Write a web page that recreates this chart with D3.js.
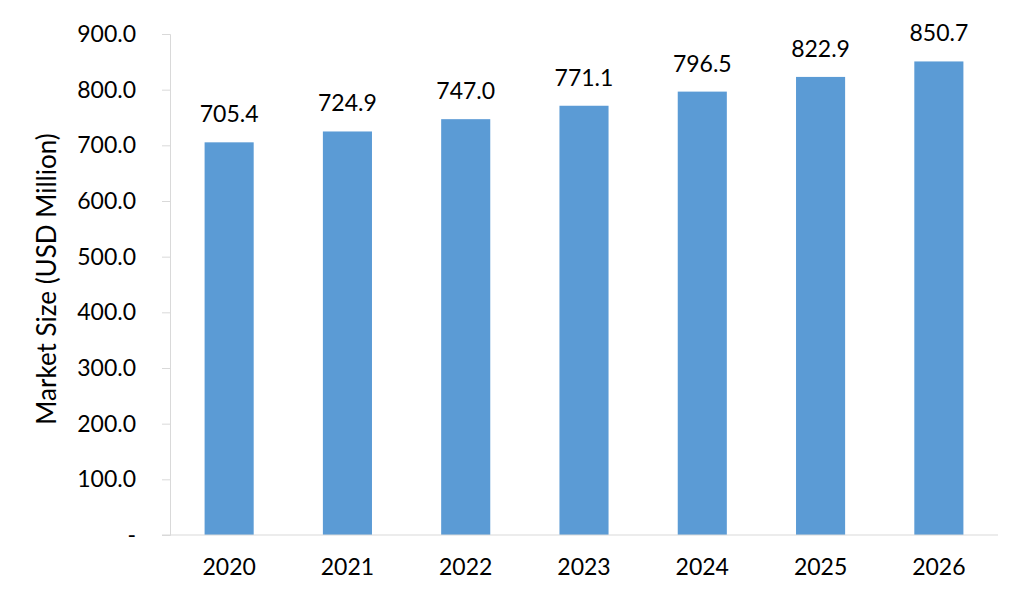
<!DOCTYPE html>
<html lang="en">
<head>
    <meta charset="UTF-8">
    <title>Market Size</title>
    <script src="https://cdn.jsdelivr.net/npm/d3@7"></script>
    <style>
        body { margin: 0; background: #fff; }
        text { font-family: Lato, 'Open Sans', sans-serif; fill: #000; }
    </style>
</head>
<body>
<script type="application/javascript">
    const years = ['2020', '2021', '2022', '2023', '2024', '2025', '2026'];
    const values = [705.4, 724.9, 747.0, 771.1, 796.5, 822.9, 850.7];
    const yTicks = [0, 100, 200, 300, 400, 500, 600, 700, 800, 900];

    const w = 1010, h = 598;
    const margin = {top: 34, right: 12, bottom: 63, left: 170};

    let svg = d3.select('body')
        .append('svg')
        .attr('width', w)
        .attr('height', h);

    // x: band scale, bars about 41% of the step
    let xScale = d3.scaleBand()
        .domain(years)
        .range([margin.left, w - margin.right])
        .paddingInner(0.585)
        .paddingOuter(0.2925);

    let yScale = d3.scaleLinear()
        .domain([0, 900])
        .range([h - margin.bottom, margin.top]);

    // y axis
    let yAxis = svg.append('g')
        .attr('transform', 'translate(' + margin.left + ',0)')
        .call(d3.axisLeft(yScale)
            .tickValues(yTicks)
            .tickSize(8)
            .tickPadding(26)
            .tickFormat(d => d === 0 ? '-' : d3.format('.1f')(d)));
    yAxis.select('.domain').attr('stroke', '#d9d9d9');
    yAxis.selectAll('.tick line').attr('stroke', '#d9d9d9');
    yAxis.selectAll('.tick text')
        .attr('font-size', '23px')
        .attr('font-family', 'Lato, sans-serif')
        .attr('fill', '#000');

    // bars
    svg.selectAll('rect.bar')
        .data(values)
        .enter()
        .append('rect')
        .attr('class', 'bar')
        .attr('x', (d, i) => xScale(years[i]))
        .attr('y', d => yScale(d))
        .attr('width', xScale.bandwidth())
        .attr('height', d => yScale(0) - yScale(d))
        .attr('fill', '#5b9bd5');

    // x axis baseline (drawn after bars)
    let xAxis = svg.append('g')
        .attr('transform', 'translate(0,' + yScale(0) + ')')
        .call(d3.axisBottom(xScale).tickSize(0).tickPadding(24));
    xAxis.select('.domain')
        .attr('d', 'M' + (margin.left - 8) + ',0H' + (w - margin.right))
        .attr('stroke', '#d9d9d9');
    xAxis.selectAll('.tick text')
        .attr('font-size', '23px')
        .attr('font-family', 'Lato, sans-serif')
        .attr('fill', '#000');

    // value labels
    svg.selectAll('text.value')
        .data(values)
        .enter()
        .append('text')
        .attr('class', 'value')
        .attr('x', (d, i) => xScale(years[i]) + xScale.bandwidth() / 2)
        .attr('y', d => yScale(d) - 20)
        .attr('text-anchor', 'middle')
        .attr('font-size', '23px')
        .text(d => d3.format('.1f')(d));

    // y axis title
    svg.append('text')
        .attr('transform', 'translate(56,279) rotate(-90)')
        .attr('text-anchor', 'middle')
        .attr('font-size', '26px')
        .text('Market Size (USD Million)');
</script>
</body>
</html>
